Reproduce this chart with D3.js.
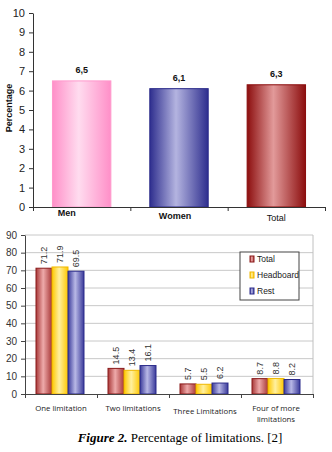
<!DOCTYPE html>
<html><head><meta charset="utf-8">
<script src="https://cdn.jsdelivr.net/npm/d3@7"></script>
<style>body{margin:0;background:#fff}svg{display:block}</style>
</head><body>
<script>
// Top chart data
const topCategories = ["Men", "Women", "Total"];
const topValues = [6.5, 6.1, 6.3];
const topLabels = ["6,5", "6,1", "6,3"];
const topTicks = [0,1,2,3,4,5,6,7,8,9,10];

// Bottom chart data
const botCategories = ["One limitation", "Two limitations", "Three Limitations", "Four of more limitations"];
const seriesNames = ["Total", "Headboard", "Rest"];
const totalValues = [71.2, 14.5, 5.7, 8.7];
const headboardValues = [71.9, 13.4, 5.5, 8.8];
const restValues = [69.5, 16.1, 6.2, 8.2];
const botTicks = [0,10,20,30,40,50,60,70,80,90];

const W = 332, H = 452;
const svg = d3.select("body").append("svg").attr("width", W).attr("height", H);
const defs = svg.append("defs");
function grad(id, edge, mid) {
  const g = defs.append("linearGradient").attr("id", id).attr("x1","0%").attr("x2","100%").attr("y1","0%").attr("y2","0%");
  g.append("stop").attr("offset","0%").attr("stop-color", edge);
  g.append("stop").attr("offset","45%").attr("stop-color", mid);
  g.append("stop").attr("offset","100%").attr("stop-color", edge);
}
grad("gMen", "#ff8fc8", "#ffdcef");
grad("gWomen", "#2e2e8e", "#b4b4e0");
grad("gTot", "#8c0e0e", "#e29a9a");
grad("gRed", "#a83838", "#eeaaaa");
grad("gYel", "#ffc800", "#fff0a0");
grad("gBlu", "#3a3a9a", "#b8b8e6");

// ---------- Top chart ----------
const tLeft = 33, tRight = 325, tTop = 13, tBottom = 207;
const tx = d3.scaleBand().domain(topCategories).range([tLeft, tRight]).paddingInner(0.4).paddingOuter(0.2);
const ty = d3.scaleLinear().domain([0, 10]).range([tBottom, tTop]);
const topFills = ["url(#gMen)", "url(#gWomen)", "url(#gTot)"];
const topStroke = ["#ff99cc", "#2a2a8a", "#8a0c0c"];
const gt = svg.append("g");
gt.selectAll("rect.tb").data(topCategories).join("rect")
  .attr("x", d => tx(d)).attr("width", tx.bandwidth())
  .attr("y", (d,i) => ty(topValues[i])).attr("height", (d,i) => ty(0) - ty(topValues[i]))
  .attr("fill", (d,i) => topFills[i]).attr("stroke", (d,i) => topStroke[i]).attr("stroke-width", 1);
gt.selectAll("text.tv").data(topCategories).join("text")
  .attr("x", d => tx(d) + tx.bandwidth()/2).attr("y", (d,i) => ty(topValues[i]) - 8)
  .attr("text-anchor","middle").attr("font-family","Liberation Sans, Arial, sans-serif")
  .attr("font-size", 9).attr("font-weight","bold").attr("fill","#111")
  .text((d,i) => topLabels[i]);
const yAxT = gt.append("g").attr("transform", `translate(${tLeft},0)`)
  .call(d3.axisLeft(ty).tickValues(topTicks).tickSize(4).tickSizeOuter(0).tickFormat(d3.format("d")));
yAxT.selectAll("text").attr("font-family","Liberation Sans, Arial, sans-serif").attr("font-size", 11).attr("fill","#222").attr("dx", -1);
yAxT.selectAll("line,path").attr("stroke","#333");
const xbT = d3.scaleLinear().domain([0, topCategories.length]).range([tLeft, tRight]);
const xAxT = gt.append("g").attr("transform", `translate(0,${tBottom})`)
  .call(d3.axisBottom(xbT).tickValues([0,1,2,3]).tickSize(4).tickSizeOuter(0).tickFormat(""));
xAxT.selectAll("line,path").attr("stroke","#333");
const topLabelDx = [-15, -4, 0];
const topLabelY = [216, 219, 221];
const topLabelBold = [true, true, false];
gt.selectAll("text.tc").data(topCategories).join("text")
  .attr("x", (d,i) => tx(d) + tx.bandwidth()/2 + topLabelDx[i]).attr("y", (d,i) => topLabelY[i])
  .attr("text-anchor","middle").attr("font-family","Liberation Sans, Arial, sans-serif")
  .attr("font-size", 9).attr("font-weight", (d,i) => topLabelBold[i] ? "bold" : "normal").attr("fill","#111")
  .text(d => d);
gt.append("text").attr("transform", `translate(12,108) rotate(-90)`)
  .attr("text-anchor","middle").attr("font-family","Liberation Sans, Arial, sans-serif")
  .attr("font-size", 9).attr("font-weight","bold").attr("fill","#111").text("Percentage");

// ---------- Bottom chart ----------
const bLeft = 25, bRight = 313, bTop = 235, bBottom = 394;
const bx = d3.scaleBand().domain(botCategories).range([bLeft, bRight]).paddingInner(0).paddingOuter(0);
const inner = d3.scaleBand().domain(seriesNames).range([11, 11 + 48]);
const by = d3.scaleLinear().domain([0, 90]).range([bBottom, bTop]);
const gb = svg.append("g");
gb.selectAll("line.grid").data(botTicks.slice(1)).join("line")
  .attr("x1", bLeft).attr("x2", bRight).attr("y1", d => by(d)).attr("y2", d => by(d))
  .attr("stroke", "#c8c8c8").attr("stroke-width", 1);
gb.append("line").attr("x1", bRight).attr("x2", bRight).attr("y1", bTop).attr("y2", bBottom).attr("stroke","#c0c0c0");
const seriesData = [totalValues, headboardValues, restValues];
const seriesFill = ["url(#gRed)", "url(#gYel)", "url(#gBlu)"];
const seriesStroke = ["#8a1a1a", "#f0b800", "#2a2a8a"];
seriesNames.forEach((s, si) => {
  gb.selectAll("rect.s" + si).data(botCategories).join("rect")
    .attr("x", d => bx(d) + inner(s)).attr("width", inner.bandwidth())
    .attr("y", (d,i) => by(seriesData[si][i])).attr("height", (d,i) => by(0) - by(seriesData[si][i]))
    .attr("fill", seriesFill[si]).attr("stroke", seriesStroke[si]).attr("stroke-width", 1);
  gb.selectAll("text.v" + si).data(botCategories).join("text")
    .attr("transform", (d,i) => `translate(${bx(d) + inner(s) + inner.bandwidth()/2 + 3},${by(seriesData[si][i]) - 4}) rotate(-90)`)
    .attr("font-family","Liberation Sans, Arial, sans-serif").attr("font-size", 9).attr("fill","#333")
    .text((d,i) => seriesData[si][i].toFixed(1));
});
const yAxB = gb.append("g").attr("transform", `translate(${bLeft},0)`)
  .call(d3.axisLeft(by).tickValues(botTicks).tickSize(4).tickSizeOuter(0));
yAxB.selectAll("text").attr("font-family","Liberation Sans, Arial, sans-serif").attr("font-size", 10).attr("fill","#333").attr("dx",-1);
yAxB.selectAll("line,path").attr("stroke","#444");
const xbB = d3.scaleLinear().domain([0, botCategories.length]).range([bLeft, bRight]);
const xAxB = gb.append("g").attr("transform", `translate(0,${bBottom})`)
  .call(d3.axisBottom(xbB).tickValues([0,1,2,3,4]).tickSize(4).tickSizeOuter(0).tickFormat(""));
xAxB.selectAll("line,path").attr("stroke","#444");
const catLines = [["One limitation"], ["Two limitations"], ["Three Limitations"], ["Four of more", "limitations"]];
const catDy = [0, 0, 3, 0];
const catDx = [0, 0, 0, -1];
gb.selectAll("text.bc").data(botCategories).join("text")
  .attr("x", (d,i) => bx(d) + bx.bandwidth()/2 + catDx[i]).attr("y", (d,i) => 411 + catDy[i])
  .attr("text-anchor","middle").attr("font-family","Open Sans, sans-serif").attr("font-size", 7.8).attr("fill","#222")
  .each(function(d,i){
    const t = d3.select(this);
    catLines[i].forEach((ln, li) => {
      t.append("tspan").attr("x", bx(d) + bx.bandwidth()/2 + catDx[i]).attr("dy", li === 0 ? 0 : 11).text(ln);
    });
  });
const lg = gb.append("g");
lg.append("rect").attr("x", 240).attr("y", 252).attr("width", 59).attr("height", 48)
  .attr("fill","#fff").attr("stroke","#444").attr("stroke-width", 1);
seriesNames.forEach((s, i) => {
  const yy = 259 + i * 16;
  lg.append("rect").attr("x", 250).attr("y", yy - 3).attr("width", 4).attr("height", 6)
    .attr("fill", seriesFill[i]).attr("stroke", seriesStroke[i]).attr("stroke-width", 1);
  lg.append("text").attr("x", 257).attr("y", yy + 3).attr("font-family","Liberation Sans, Arial, sans-serif")
    .attr("font-size", 8.5).attr("fill","#222").text(s);
});

const cap = svg.append("text").attr("x", 180).attr("y", 442).attr("text-anchor","middle")
  .attr("font-family","Liberation Serif, Times New Roman, serif").attr("font-size", 13).attr("fill","#000");
cap.append("tspan").attr("font-weight","bold").attr("font-style","italic").text("Figure 2.");
cap.append("tspan").text(" Percentage of limitations. [2]");
</script>
</body></html>
